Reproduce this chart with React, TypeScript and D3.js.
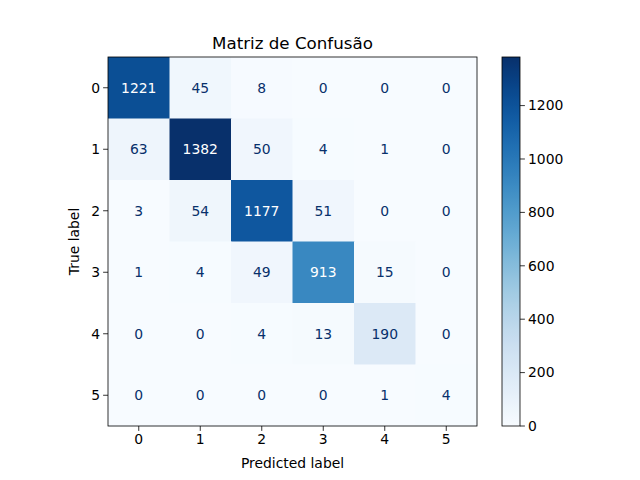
import React from 'react';
import * as d3 from 'd3';

const labels = ['0', '1', '2', '3', '4', '5'];
const matrix = [
  [1221, 45, 8, 0, 0, 0],
  [63, 1382, 50, 4, 1, 0],
  [3, 54, 1177, 51, 0, 0],
  [1, 4, 49, 913, 15, 0],
  [0, 0, 4, 13, 190, 0],
  [0, 0, 0, 0, 1, 4],
];
const cbTicks = [0, 200, 400, 600, 800, 1000, 1200];

const App = () => {
  const left = 108, top = 57, size = 369;
  const x = d3.scaleBand().domain(labels).range([left, left + size]);
  const y = d3.scaleBand().domain(labels).range([top, top + size]);
  const vmax = d3.max(matrix.flat()) as number;
  const color = d3.scaleSequential(d3.interpolateBlues).domain([0, vmax]);
  const cbX = 502, cbW = 18;
  const cy = d3.scaleLinear().domain([0, vmax]).range([top + size, top]);
  const font = 'DejaVu Sans, sans-serif';
  const grad = d3.range(0, 101).map(i => i / 100);

  return (
    <div style={{ position: 'absolute', left: 0, top: 0 }}>
      <svg width={640} height={480} style={{ display: 'block', background: '#fff' }} fontFamily={font}>
        <defs>
          <linearGradient id="cb" x1="0" y1="1" x2="0" y2="0">
            {grad.map(t => (
              <stop key={t} offset={t} stopColor={color(t * vmax)} />
            ))}
          </linearGradient>
        </defs>
        {matrix.map((row, i) =>
          row.map((v, j) => (
            <g key={`${i}-${j}`}>
              <rect x={x(labels[j])} y={y(labels[i])} width={x.bandwidth() + 0.5} height={y.bandwidth() + 0.5} fill={color(v)} />
              <text x={(x(labels[j]) as number) + x.bandwidth() / 2} y={(y(labels[i]) as number) + y.bandwidth() / 2}
                dy="0.35em" textAnchor="middle" fontSize={13.9}
                fill={v > vmax / 2 ? '#fff' : '#08306b'}>{v}</text>
            </g>
          ))
        )}
        <rect x={left} y={top} width={size} height={size} fill="none" stroke="#000" strokeWidth={0.8} />
        {labels.map(l => (
          <g key={'x' + l}>
            <line x1={(x(l) as number) + x.bandwidth() / 2} x2={(x(l) as number) + x.bandwidth() / 2} y1={top + size} y2={top + size + 4.9} stroke="#000" strokeWidth={0.8} />
            <text x={(x(l) as number) + x.bandwidth() / 2} y={top + size + 18} textAnchor="middle" fontSize={13.9}>{l}</text>
            <line y1={(y(l) as number) + y.bandwidth() / 2} y2={(y(l) as number) + y.bandwidth() / 2} x1={left} x2={left - 4.9} stroke="#000" strokeWidth={0.8} />
            <text y={(y(l) as number) + y.bandwidth() / 2} x={left - 8} dy="0.35em" textAnchor="end" fontSize={13.9}>{l}</text>
          </g>
        ))}
        <text x={left + size / 2} y={468} textAnchor="middle" fontSize={13.9}>Predicted label</text>
        <text transform={`translate(79,${top + size / 2}) rotate(-90)`} textAnchor="middle" fontSize={13.9}>True label</text>
        <text x={left + size / 2} y={49} textAnchor="middle" fontSize={16.7}>Matriz de Confusão</text>
        <rect x={cbX} y={top} width={cbW} height={size} fill="url(#cb)" stroke="#000" strokeWidth={0.8} />
        {cbTicks.map(t => (
          <g key={'c' + t}>
            <line x1={cbX + cbW} x2={cbX + cbW + 4.9} y1={cy(t)} y2={cy(t)} stroke="#000" strokeWidth={0.8} />
            <text x={cbX + cbW + 8} y={cy(t)} dy="0.35em" fontSize={13.9}>{t}</text>
          </g>
        ))}
      </svg>
    </div>
  );
};

export default App;
